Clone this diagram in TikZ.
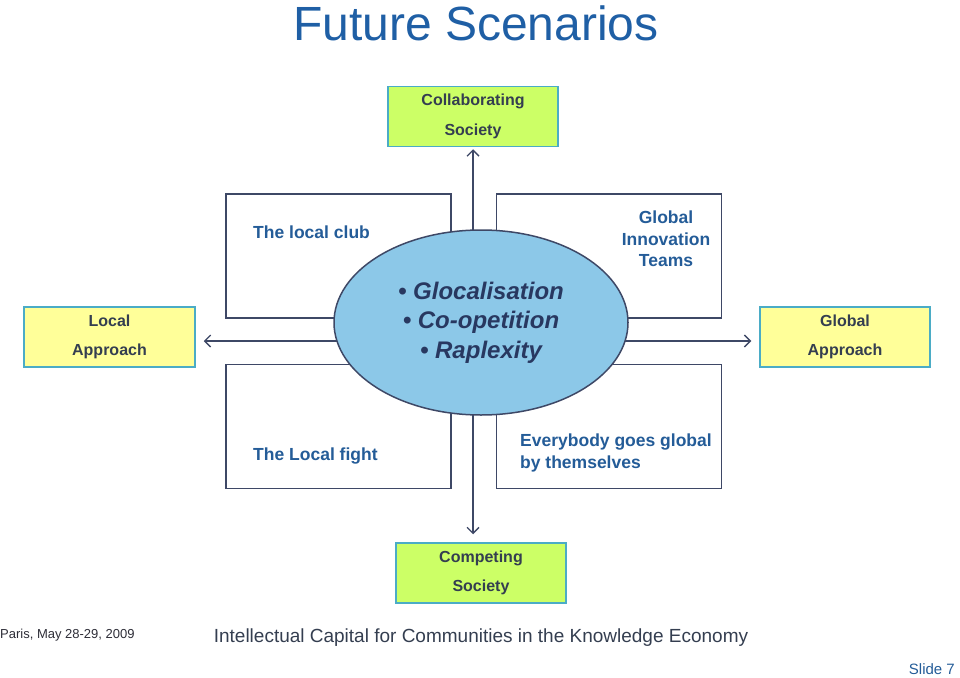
\documentclass[tikz,border=0pt]{standalone}
\usepackage{fontspec}
\setmainfont{Liberation Sans}
\usetikzlibrary{arrows.meta, positioning, shapes.geometric}
\definecolor{titleblue}{RGB}{31,95,165}
\definecolor{quadblue}{RGB}{36,92,152}
\definecolor{navy}{RGB}{40,56,96}
\definecolor{slate}{RGB}{52,62,80}
\definecolor{frame}{RGB}{62,72,102}
\definecolor{ellfill}{RGB}{140,200,232}
\definecolor{limefill}{RGB}{204,255,102}
\definecolor{paleyellow}{RGB}{255,255,153}
\definecolor{tealedge}{RGB}{75,172,198}
\definecolor{footgray}{RGB}{45,45,55}

\tikzset{
  scenbox/.style={draw=tealedge, line width=1.5pt, minimum width=170pt,
    minimum height=60pt, inner sep=0pt, align=center, text=slate,
    font=\fontsize{16}{29.5}\selectfont\bfseries},
  quad/.style={draw=frame, fill=white, line width=1.5pt, minimum width=225pt,
    minimum height=124pt, inner sep=0pt},
  quadtxt/.style={text=quadblue, inner sep=0pt,
    font=\fontsize{17.5}{21.5}\selectfont\bfseries},
  twoway/.style={draw=frame, line width=1.3pt,
    {Straight Barb[length=6pt,width=12pt]}-{Straight Barb[length=6pt,width=12pt]}}
}

\begin{document}
\begin{tikzpicture}[x=1pt, y=-1pt, every node/.style={inner sep=0pt}]
  \useasboundingbox (0,0) rectangle (960,677);

  % title
  \node[anchor=base, text=titleblue, font=\fontsize{48}{50}\selectfont]
       (title) at (476,41) {Future Scenarios};

  % the four scenarios at the ends of the axes
  \node[scenbox, fill=limefill] (collab) at (473,116.5) {Collaborating\\Society};
  \node[scenbox, fill=limefill] (compet) at (481,573) {Competing\\Society};
  \node[scenbox, fill=paleyellow, minimum width=171pt] (local) at (109.5,337) {Local\\Approach};
  \node[scenbox, fill=paleyellow] (global) at (845,337) {Global\\Approach};

  % axes
  \draw[twoway, shorten <=2pt, shorten >=8pt]
       (collab.south) -- (collab.south |- compet.north);
  \draw[twoway, shorten <=8pt, shorten >=8pt]
       ([yshift=-4pt]local.east) -- ([yshift=-4pt]global.west);

  % quadrants
  \node[quad] (qtl) at (338.5,256) {};
  \node[quad] (qtr) at (609,256) {};
  \node[quad] (qbl) at (338.5,426.5) {};
  \node[quad] (qbr) at (609,426.5) {};

  \node[quadtxt, anchor=base west] (club) at (253,238) {The local club};
  \node[quadtxt, align=center] (teams) at (666,239) {Global\\Innovation\\Teams};
  \node[quadtxt, anchor=base west] (fight) at (253,460) {The Local fight};
  \node[quadtxt, align=left, anchor=west] (alone) at (520,453)
       {Everybody goes global\\by themselves};

  % centre
  \node[ellipse, draw=frame, fill=ellfill, line width=1.5pt,
        minimum width=294pt, minimum height=185pt, align=center, text=navy,
        font=\fontsize{24}{29.5}\selectfont\bfseries\itshape]
       (core) at (481,322.5)
       {\textbullet{} Glocalisation\\\textbullet{} Co-opetition\\\textbullet{} Raplexity};

  % footer
  \node[anchor=west, text=footgray, font=\fontsize{13}{15}\selectfont]
       (date) at (0,635) {Paris, May 28-29, 2009};
  \node[text=slate, font=\fontsize{19}{21}\selectfont]
       (conf) at (481,638) {Intellectual Capital for Communities in the Knowledge Economy};
  \node[anchor=east, text=quadblue, font=\fontsize{15}{17}\selectfont]
       (slide) at (955,669) {Slide 7};
\end{tikzpicture}
\end{document}
